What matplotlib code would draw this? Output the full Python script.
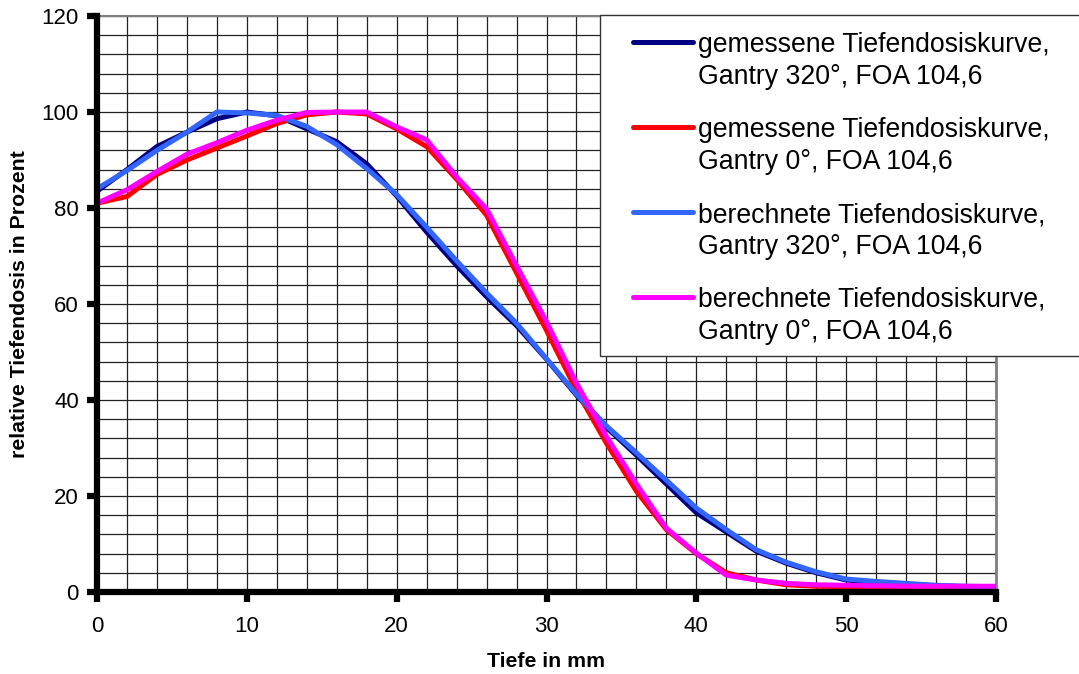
import matplotlib
matplotlib.use("Agg")
import matplotlib.pyplot as plt
from matplotlib.lines import Line2D
from matplotlib.patches import Rectangle
import numpy as np

plt.rcParams['font.family'] = ['Liberation Sans', 'DejaVu Sans']

depth = list(range(0, 62, 2))

meas_320 = [83.5, 88, 92.8, 95.8, 98.6, 100, 99.2, 96.5, 93.8, 89.2, 82.5, 75, 68, 61.5, 55.5,
            48.5, 41, 34.3, 28.5, 22.5, 16.5, 12.5, 8.5, 6, 4, 2.5, 2, 1.6, 1.3, 1.1, 1]
meas_0 = [81, 82.4, 87, 90, 92.5, 95, 97.6, 99.4, 100, 99.6, 96.5, 92.8, 86, 78.5, 66.5,
          54.5, 42, 31, 21, 13, 8, 4, 2.5, 1.5, 1.2, 1.1, 1, 1, 1, 1, 1]
calc_320 = [84, 87.8, 92, 95.8, 100, 99.8, 99.3, 97, 93.2, 88.2, 82.8, 76, 69, 62.3, 56,
            48.6, 41.2, 34.6, 29, 23.3, 17.5, 13, 8.8, 6.2, 4.2, 2.7, 2.2, 1.8, 1.4, 1.2, 1.1]
calc_0 = [81, 83.8, 87.6, 91.2, 93.6, 96.2, 98.3, 99.9, 100, 100, 96.9, 94.2, 86.5, 79.8, 68,
          56.3, 43.5, 32.4, 22.5, 13.3, 8.1, 3.5, 2.5, 1.8, 1.5, 1.4, 1.3, 1.2, 1.2, 1.2, 1.2]

labels = ["gemessene Tiefendosiskurve,\nGantry 320°, FOA 104,6",
          "gemessene Tiefendosiskurve,\nGantry 0°, FOA 104,6",
          "berechnete Tiefendosiskurve,\nGantry 320°, FOA 104,6",
          "berechnete Tiefendosiskurve,\nGantry 0°, FOA 104,6"]
colors = ["#000080", "#FF0000", "#3366FF", "#FF00FF"]
series = [meas_320, meas_0, calc_320, calc_0]

x_ticks = [0, 10, 20, 30, 40, 50, 60]
y_ticks = [0, 20, 40, 60, 80, 100, 120]

W, H = 1079, 674
fig = plt.figure(figsize=(W / 100, H / 100), dpi=100)
ax = fig.add_axes([97 / W, 1 - 592 / H, (996 - 97) / W, (592 - 16) / H])

for s, c in zip(series, colors):
    ax.plot(depth, s, color=c, lw=3.6, solid_joinstyle='round', solid_capstyle='butt', zorder=3)

ax.set_xlim(0, 60)
ax.set_ylim(0, 120)
ax.set_xticks(x_ticks)
ax.set_yticks(y_ticks)
ax.set_xticks(np.arange(0, 61, 2), minor=True)
ax.set_yticks(np.arange(0, 121, 4), minor=True)
ax.grid(which='both', color='#222222', lw=0.9, zorder=1)
ax.tick_params(which='minor', length=0)
ax.tick_params(which='major', length=7, width=4.5, color='black', labelsize=16)
ax.tick_params(axis='x', pad=10)
ax.tick_params(axis='y', pad=6)

ax.spines['left'].set_linewidth(4.5)
ax.spines['bottom'].set_linewidth(4.5)
ax.spines['top'].set_color('#808080')
ax.spines['top'].set_linewidth(1.5)
ax.spines['right'].set_color('#808080')
ax.spines['right'].set_linewidth(2)
ax.spines['left'].set_zorder(4)
ax.spines['bottom'].set_zorder(4)

ax.set_xlabel("Tiefe in mm", fontsize=15.3, fontweight='bold')
ax.xaxis.set_label_coords((97 + 996) / 2 / W, 1 - 652 / H, transform=fig.transFigure)
ax.set_ylabel("relative Tiefendosis in Prozent", fontsize=15.3, fontweight='bold')
ax.yaxis.set_label_coords(29 / W, 1 - 304 / H, transform=fig.transFigure)

# legend box
rect = Rectangle((600 / W, 1 - 356 / H), 500 / W, (356 - 15) / H, transform=fig.transFigure,
                 facecolor='white', edgecolor='#333333', lw=1.0, zorder=10)
fig.add_artist(rect)
for i, (lab, c) in enumerate(zip(labels, colors)):
    yc = 42 + i * 85
    fig.add_artist(Line2D([633 / W, 693 / W], [1 - yc / H, 1 - yc / H], transform=fig.transFigure,
                          color=c, lw=3.6, solid_capstyle='round', zorder=11))
    fig.text(698 / W, 1 - (yc - 10) / H, lab, fontsize=19.2, va='top', ha='left',
             linespacing=1.28, zorder=12)

fig.savefig("out.png", dpi=100)
